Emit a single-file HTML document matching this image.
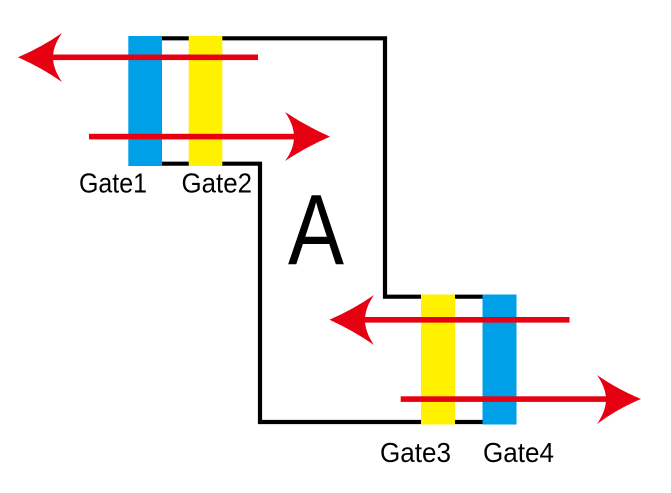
<!DOCTYPE html>
<html><head><meta charset="utf-8"><style>
html,body{margin:0;padding:0;background:#fff;width:671px;height:493px;overflow:hidden}
svg{display:block}
text{font-family:"Liberation Sans",sans-serif;fill:#000}
</style></head><body>
<svg width="671" height="493" viewBox="0 0 671 493" xmlns="http://www.w3.org/2000/svg">
<path d="M150 38.3H385V296.7H500M500 422H260V163.7H150" fill="none" stroke="#000" stroke-width="4.2"/>
<rect x="128.3" y="36" width="33.7" height="130" fill="#00a0e9"/>
<rect x="188.7" y="36" width="33.6" height="130" fill="#fff100"/>
<rect x="421" y="294.5" width="34" height="130" fill="#fff100"/>
<rect x="482.5" y="294.5" width="34" height="130" fill="#00a0e9"/>
<g fill="#e60012">
<rect x="50" y="54.5" width="208" height="5.6"/>
<path d="M18 57.3Q42 47 62 33Q53 46 53 57.3Q53 69 62 82Q42 68 18 57.3Z"/>
<rect x="89" y="133.8" width="205" height="5.6"/>
<path d="M330 136.6Q306 126 285 112Q294 125 294 136.6Q294 149 285 161Q306 147 330 136.6Z"/>
<rect x="362" y="317" width="207.5" height="5.6"/>
<path d="M329.5 319.8Q354 309 374 295Q365 308 365 319.8Q365 332 374 345Q354 331 329.5 319.8Z"/>
<rect x="400.7" y="396.3" width="206" height="5.6"/>
<path d="M641 399Q617 389 597 375Q606 388 606 399Q606 411 597 424Q617 409 641 399Z"/>
</g>
<text x="79" y="192.4" font-size="27.5" textLength="68" lengthAdjust="spacingAndGlyphs">Gate1</text>
<text x="181.5" y="192.4" font-size="27.5" textLength="70.5" lengthAdjust="spacingAndGlyphs">Gate2</text>
<text x="380" y="462" font-size="27.5" textLength="71" lengthAdjust="spacingAndGlyphs">Gate3</text>
<text x="483" y="462" font-size="27.5" textLength="71" lengthAdjust="spacingAndGlyphs">Gate4</text>
<text x="288" y="264" font-size="100" textLength="56" lengthAdjust="spacingAndGlyphs">A</text>
</svg>
</body></html>
